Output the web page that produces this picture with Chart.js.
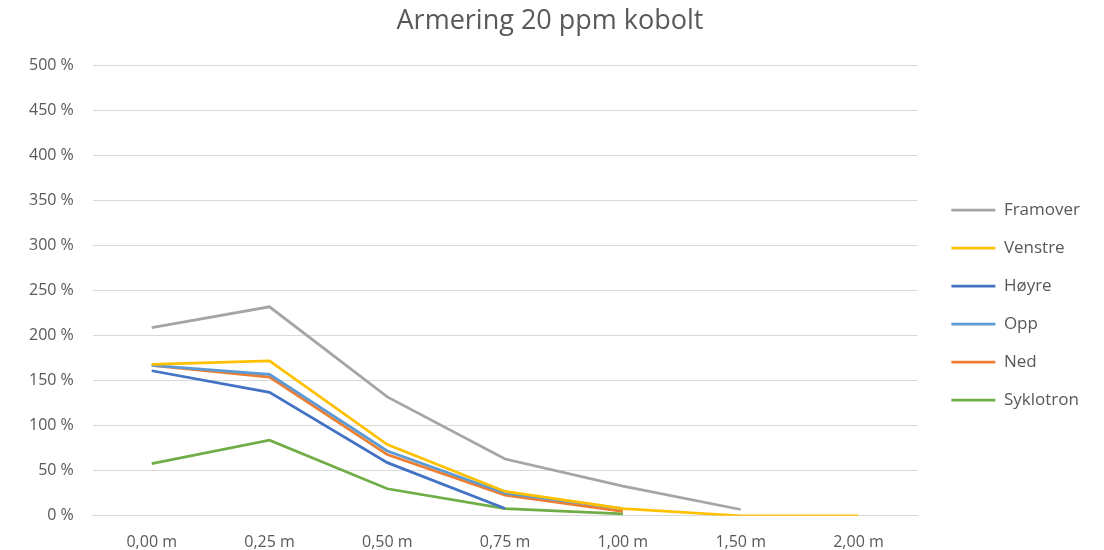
<!DOCTYPE html>
<html lang="no">
<head>
    <meta charset="UTF-8">
    <title>Armering 20 ppm kobolt</title>
    <script src="https://cdn.jsdelivr.net/npm/chart.js"></script>
    <style>
        body {
            margin: 0;
            background: #ffffff;
        }

        .chart-container {
            width: 1104px;
            height: 550px;
        }
    </style>
</head>
<body>
    <div class="chart-container">
        <canvas id="koboltChart"></canvas>
    </div>

    <script>
        // kategorier (avstand) og verdier i prosent
        const avstand = ['0,00 m', '0,25 m', '0,50 m', '0,75 m', '1,00 m', '1,50 m', '2,00 m'];
        const framover = [209, 232, 132, 63, 33, 7, null];
        const venstre = [168, 172, 79, 27, 8, 0, 0];
        const hoyre = [161, 137, 59, 8, null, null, null];
        const opp = [167, 157, 72, 25, 8, null, null];
        const ned = [167, 154, 68, 23, 5, null, null];
        const syklotron = [58, 84, 30, 8, 2, null, null];
        const yTicks = [0, 50, 100, 150, 200, 250, 300, 350, 400, 450, 500];

        const fontFamily = '"Open Sans", "Liberation Sans", sans-serif';
        const textColor = '#595959';
        const legendGap = 13;

        function serie(navn, data, farge) {
            return {
                label: navn,
                data: data,
                borderColor: farge,
                backgroundColor: farge,
                borderWidth: 2.75,
                pointRadius: 0,
                tension: 0,
                spanGaps: false
            };
        }

        // litt ekstra luft mellom plottet og forklaringen
        const legendShift = {
            id: 'legendShift',
            beforeInit(chart) {
                const fit = chart.legend.fit;
                chart.legend.fit = function () {
                    fit.call(this);
                    this.width += legendGap;
                };
            },
            afterLayout(chart) {
                chart.legend.left += legendGap;
                chart.legend.right += legendGap;
            }
        };

        function loadChart() {
            const ctx = document.getElementById('koboltChart').getContext('2d');
            new Chart(ctx, {
                type: 'line',
                data: {
                    labels: avstand,
                    datasets: [
                        serie('Framover', framover, '#a5a5a5'),
                        serie('Venstre', venstre, '#ffc000'),
                        serie('Høyre', hoyre, '#4472c4'),
                        serie('Opp', opp, '#5b9bd5'),
                        serie('Ned', ned, '#ed7d31'),
                        serie('Syklotron', syklotron, '#70ad47')
                    ]
                },
                plugins: [legendShift],
                options: {
                    responsive: true,
                    maintainAspectRatio: false,
                    animation: false,
                    layout: {
                        padding: { left: 10, right: 14, top: 0, bottom: 0 }
                    },
                    plugins: {
                        title: {
                            display: true,
                            text: 'Armering 20 ppm kobolt',
                            color: textColor,
                            font: { family: fontFamily, size: 27, weight: 'normal' },
                            padding: { top: 5, bottom: 28 }
                        },
                        legend: {
                            position: 'right',
                            align: 'center',
                            title: {
                                display: true,
                                text: '',
                                font: { size: 10 },
                                padding: 24
                            },
                            labels: {
                                color: textColor,
                                font: { family: fontFamily, size: 17 },
                                usePointStyle: true,
                                pointStyle: 'line',
                                pointStyleWidth: 44,
                                padding: 21
                            }
                        },
                        tooltip: { enabled: false }
                    },
                    scales: {
                        x: {
                            offset: true,
                            grid: { display: false, drawTicks: false },
                            border: { color: '#d9d9d9' },
                            afterFit: function (scale) {
                                scale.height -= 19;
                            },
                            ticks: {
                                color: textColor,
                                font: { family: fontFamily, size: 16 },
                                maxRotation: 0,
                                padding: 17
                            }
                        },
                        y: {
                            min: 0,
                            max: 500,
                            afterBuildTicks: function (scale) {
                                scale.ticks = yTicks.map(v => ({ value: v }));
                            },
                            grid: { color: '#d9d9d9', drawTicks: false },
                            border: { display: false },
                            ticks: {
                                color: textColor,
                                font: { family: fontFamily, size: 16 },
                                padding: 19,
                                callback: v => v + ' %'
                            }
                        }
                    }
                }
            });
        }

        window.onload = loadChart;
    </script>
</body>
</html>
